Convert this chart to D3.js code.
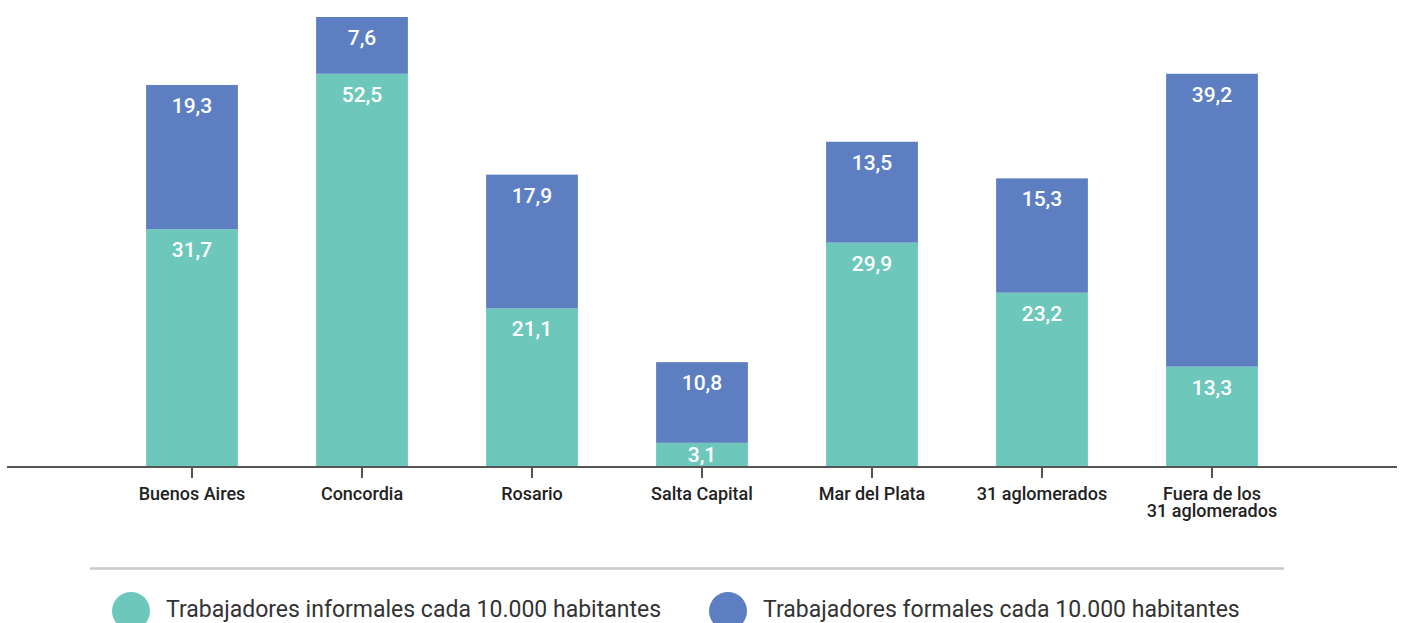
<!DOCTYPE html>
<html>
<head>
<meta charset="utf-8">
<script src="https://cdn.jsdelivr.net/npm/d3@7"></script>
<style>
  html, body { margin: 0; padding: 0; background: #fff; }
  svg { display: block; font-family: Roboto, "Noto Sans", sans-serif; }
</style>
</head>
<body>
<svg id="chart"></svg>
<script>
// data
const cities = ["Buenos Aires", "Concordia", "Rosario", "Salta Capital", "Mar del Plata", "31 aglomerados", "Fuera de los\n31 aglomerados"]
const informales = [31.7, 52.5, 21.1, 3.1, 29.9, 23.2, 13.3]
const formales = [19.3, 7.6, 17.9, 10.8, 13.5, 15.3, 39.2]
const seriesNames = ["Trabajadores informales cada 10.000 habitantes", "Trabajadores formales cada 10.000 habitantes"]
const colors = ["#6dc8bb", "#5d7fc2"]

const width = 1405
const height = 623
const baseY = 466

const svg = d3.select("#chart")
  .attr("width", width)
  .attr("height", height)

const rows = cities.map((c, i) => ({ city: c, inf: informales[i], form: formales[i] }))

const x = d3.scaleBand()
  .domain(cities)
  .range([107, 1297])
  .paddingInner(0.46)
  .paddingOuter(0.23)

const yMax = d3.max(rows, d => d.inf + d.form)
const y = d3.scaleLinear()
  .domain([0, yMax])
  .range([baseY, 17])

const fmt = v => d3.format(".1f")(v).replace(".", ",")

const stack = d3.stack().keys(["inf", "form"])(rows)

const layers = svg.append("g")
  .selectAll("g")
  .data(stack)
  .join("g")
  .attr("fill", (d, i) => colors[i])

layers.selectAll("rect")
  .data(d => d)
  .join("rect")
  .attr("x", d => x(d.data.city))
  .attr("width", x.bandwidth())
  .attr("y", d => y(d[1]))
  .attr("height", d => y(d[0]) - y(d[1]))

// value labels, near the top of each segment
layers.selectAll("text")
  .data(d => d)
  .join("text")
  .attr("x", d => x(d.data.city) + x.bandwidth() / 2)
  .attr("y", d => {
    const top = y(d[1])
    const h = y(d[0]) - top
    return h < 40 ? top + h / 2 + 7.5 : top + 28
  })
  .attr("text-anchor", "middle")
  .attr("fill", "#fff")
  .attr("font-size", "21px")
  .attr("font-weight", 500)
  .text(d => fmt(d[1] - d[0]))

// axis
const axisG = svg.append("g")
  .attr("transform", `translate(0,${baseY})`)

axisG.append("line")
  .attr("x1", 7)
  .attr("x2", 1397)
  .attr("y1", 1)
  .attr("y2", 1)
  .attr("stroke", "#555")
  .attr("stroke-width", 2)

axisG.selectAll(".tick")
  .data(cities)
  .join("line")
  .attr("class", "tick")
  .attr("x1", d => x(d) + x.bandwidth() / 2)
  .attr("x2", d => x(d) + x.bandwidth() / 2)
  .attr("y1", 1)
  .attr("y2", 12)
  .attr("stroke", "#555")
  .attr("stroke-width", 2)

axisG.selectAll(".cat")
  .data(cities)
  .join("text")
  .attr("class", "cat")
  .attr("x", d => x(d) + x.bandwidth() / 2)
  .attr("y", 34)
  .attr("text-anchor", "middle")
  .attr("fill", "#222")
  .attr("font-size", "18px")
  .attr("font-weight", 500)
  .selectAll("tspan")
  .data(d => d.split("\n"))
  .join("tspan")
  .attr("x", function () { return d3.select(this.parentNode).attr("x") })
  .attr("dy", (d, i) => i === 0 ? 0 : 16.5)
  .text(d => d)

// legend
svg.append("line")
  .attr("x1", 90)
  .attr("x2", 1284)
  .attr("y1", 568.5)
  .attr("y2", 568.5)
  .attr("stroke", "#c8c8c8")
  .attr("stroke-width", 2.5)

const legendX = [131, 728]
const legend = svg.selectAll(".legend")
  .data(seriesNames)
  .join("g")
  .attr("class", "legend")
  .attr("transform", (d, i) => `translate(${legendX[i]},611)`)

legend.append("circle")
  .attr("r", 19)
  .attr("fill", (d, i) => colors[i])

legend.append("text")
  .attr("x", 35)
  .attr("y", 6)
  .attr("fill", "#333")
  .attr("font-size", "23px")
  .text(d => d)
</script>
</body>
</html>
